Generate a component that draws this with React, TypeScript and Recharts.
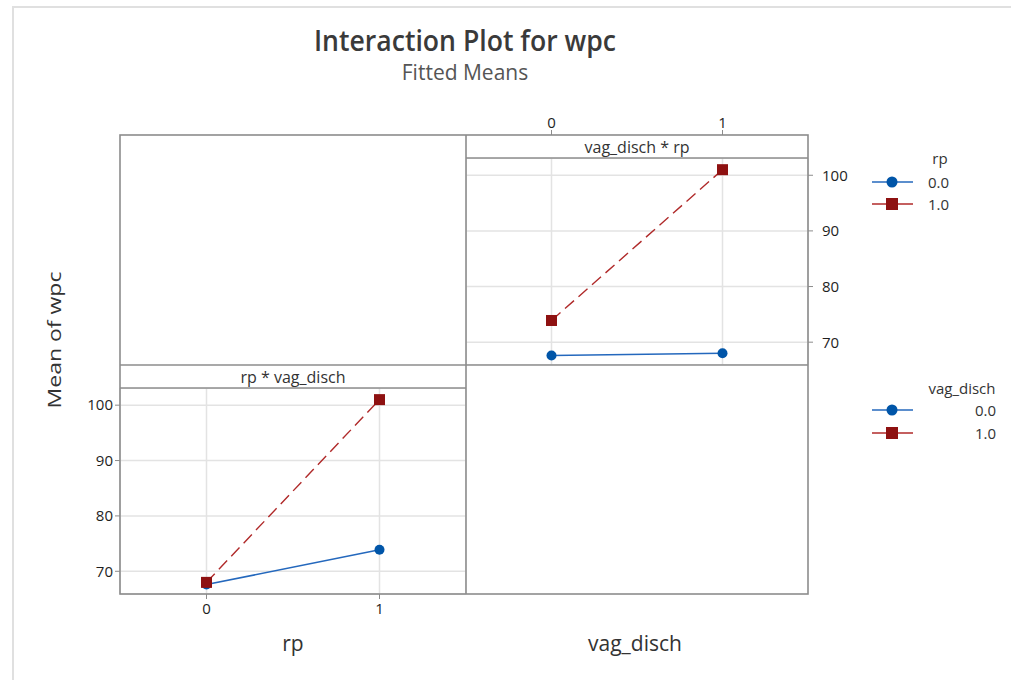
import React from "react";
import { LineChart, Line, XAxis, YAxis, CartesianGrid } from "recharts";

const FONT = '"Segoe UI", "Open Sans", "Noto Sans", sans-serif';
const FRAME = "#8c8c8c";
const GRID = "#e3e3e3";
const BLUE_LINE = "#2468bd";
const BLUE_MARK = "#0055a8";
const RED_LINE = "#b02a2a";
const RED_MARK = "#8e1111";

// factor levels (shared by rp and vag_disch)
const LEVELS = [0, 1];
const LEVEL_LABELS = ["0.0", "1.0"];
// fitted means of wpc, indexed by vag_disch level
const RP0_MEANS = [67.6, 68.0];
const RP1_MEANS = [73.9, 101.0];
const Y_TICKS = [70, 80, 90, 100];
const Y_DOMAIN: [number, number] = [65.9, 103.1];
const X_DOMAIN: [number, number] = [-0.5, 1.5];

// vag_disch on x, one series per rp level
const vagRows = LEVELS.map((lv, i) => ({ x: lv, s0: RP0_MEANS[i], s1: RP1_MEANS[i] }));
// rp on x, one series per vag_disch level
const byRp = [RP0_MEANS, RP1_MEANS];
const rpRows = LEVELS.map((lv, i) => ({ x: lv, s0: byRp[i][0], s1: byRp[i][1] }));

const tickStyle = { fill: "#1e1e1e", fontSize: 15, fontFamily: FONT };

const CircleDot = (p: any) => (
    <circle key={`c-${p.index}`} cx={p.cx} cy={p.cy} r={5} fill={BLUE_MARK} />
);
const SquareDot = (p: any) => (
    <rect key={`s-${p.index}`} x={p.cx - 5.5} y={p.cy - 5.5} width={11} height={11} fill={RED_MARK} />
);

function Series() {
    return [
        <Line
            key="s0"
            type="linear"
            dataKey="s0"
            stroke={BLUE_LINE}
            strokeWidth={1.6}
            dot={CircleDot}
            activeDot={false}
            isAnimationActive={false}
        />,
        <Line
            key="s1"
            type="linear"
            dataKey="s1"
            stroke={RED_LINE}
            strokeWidth={1.4}
            strokeDasharray="12 6"
            dot={SquareDot}
            activeDot={false}
            isAnimationActive={false}
        />,
    ];
}

const LegendRow = ({ y, kind, label, x, anchor }: any) => (
    <g>
        <line x1={872} x2={913} y1={y} y2={y} stroke={kind === 0 ? BLUE_LINE : RED_LINE} strokeWidth={1.6} />
        {kind === 0 ? (
            <circle cx={892} cy={y} r={5.5} fill={BLUE_MARK} />
        ) : (
            <rect x={886} y={y - 6} width={12} height={12} fill={RED_MARK} />
        )}
        <text x={x} y={y} textAnchor={anchor} dominantBaseline="central" fontSize={15} fill="#333">
            {label}
        </text>
    </g>
);

export default function App() {
    const txt = (size: number, color: string, sx = 1, weight = 400): React.CSSProperties => ({
        display: "inline-block",
        fontFamily: FONT,
        fontSize: size,
        lineHeight: `${size}px`,
        color,
        fontWeight: weight,
        transform: `scaleX(${sx})`,
        whiteSpace: "nowrap",
    });

    return (
        <div style={{ position: "absolute", left: 0, top: 0, width: 1011, height: 680, background: "#fff", overflow: "hidden", fontFamily: FONT }}>
            <div style={{ position: "absolute", left: 12, top: 6, right: -4, bottom: -4, borderLeft: "2px solid #e0e0e0", borderTop: "2px solid #e0e0e0" }} />

            <div style={{ position: "absolute", left: 0, width: 930, top: 26, textAlign: "center" }}>
                <span style={txt(28, "#3a3a3a", 0.95, 600)}>Interaction Plot for wpc</span>
            </div>
            <div style={{ position: "absolute", left: 0, width: 930, top: 62, textAlign: "center" }}>
                <span style={txt(21, "#555")}>Fitted Means</span>
            </div>

            {/* bottom-left panel: rp * vag_disch */}
            <div style={{ position: "absolute", left: 60, top: 388 }}>
                <LineChart width={406} height={236} data={rpRows} margin={{ top: 0, right: 0, bottom: 0, left: 0 }}>
                    <CartesianGrid stroke={GRID} strokeWidth={1.5} />
                    <XAxis type="number" dataKey="x" domain={X_DOMAIN} ticks={LEVELS} height={30} tickSize={5} tickMargin={4} axisLine={false} tickLine={{ stroke: FRAME }} tick={tickStyle} />
                    <YAxis type="number" domain={Y_DOMAIN} ticks={Y_TICKS} width={60} tickSize={5} tickMargin={2} axisLine={false} tickLine={{ stroke: FRAME }} tick={tickStyle} />
                    {Series()}
                </LineChart>
            </div>

            {/* top-right panel: vag_disch * rp */}
            <div style={{ position: "absolute", left: 466, top: 108 }}>
                <LineChart width={392} height={257} data={vagRows} margin={{ top: 0, right: 0, bottom: 0, left: 0 }}>
                    <CartesianGrid stroke={GRID} strokeWidth={1.5} />
                    <XAxis type="number" dataKey="x" orientation="top" domain={X_DOMAIN} ticks={LEVELS} height={50} tickSize={28} tickMargin={2} axisLine={false} tickLine={{ stroke: FRAME }} tick={tickStyle} />
                    <YAxis type="number" orientation="right" domain={Y_DOMAIN} ticks={Y_TICKS} width={50} tickSize={5} tickMargin={9} axisLine={false} tickLine={{ stroke: FRAME }} tick={{ ...tickStyle, textAnchor: "start" }} />
                    {Series()}
                </LineChart>
            </div>

            <svg width={1011} height={680} style={{ position: "absolute", left: 0, top: 0, pointerEvents: "none" }} fontFamily={FONT}>
                {/* strip headers */}
                <rect x={466} y={135} width={342} height={23} fill="#fff" />
                <rect x={120} y={365} width={346} height={23} fill="#fff" />
                <text x={637} y={147} textAnchor="middle" dominantBaseline="central" fontSize={16} fill="#333">
                    vag_disch * rp
                </text>
                <text x={293} y={377} textAnchor="middle" dominantBaseline="central" fontSize={16} fill="#333">
                    rp * vag_disch
                </text>
                {/* frame */}
                <g stroke={FRAME} strokeWidth={1.6} fill="none">
                    <rect x={120} y={135} width={688} height={459} />
                    <line x1={466} x2={466} y1={135} y2={594} />
                    <line x1={120} x2={808} y1={365} y2={365} />
                    <line x1={466} x2={808} y1={158} y2={158} />
                    <line x1={120} x2={466} y1={388} y2={388} />
                </g>

                {/* legends */}
                <text x={940} y={158} textAnchor="middle" dominantBaseline="central" fontSize={15} fill="#333">rp</text>
                <LegendRow y={182} kind={0} label={LEVEL_LABELS[0]} x={928} anchor="start" />
                <LegendRow y={204} kind={1} label={LEVEL_LABELS[1]} x={928} anchor="start" />
                <text x={962} y={388} textAnchor="middle" dominantBaseline="central" fontSize={15} fill="#333">vag_disch</text>
                <LegendRow y={410} kind={0} label={LEVEL_LABELS[0]} x={996} anchor="end" />
                <LegendRow y={433} kind={1} label={LEVEL_LABELS[1]} x={996} anchor="end" />
            </svg>

            <div style={{ position: "absolute", left: 55, top: 340, transform: "translate(-50%, -50%) rotate(-90deg)" }}>
                <span style={{ ...txt(23, "#333"), transform: "scaleY(0.82)" }}>Mean of wpc</span>
            </div>
            <div style={{ position: "absolute", left: 193, width: 200, top: 633, textAlign: "center" }}>
                <span style={txt(21, "#333")}>rp</span>
            </div>
            <div style={{ position: "absolute", left: 535, width: 200, top: 633, textAlign: "center" }}>
                <span style={txt(21, "#333")}>vag_disch</span>
            </div>
        </div>
    );
}
